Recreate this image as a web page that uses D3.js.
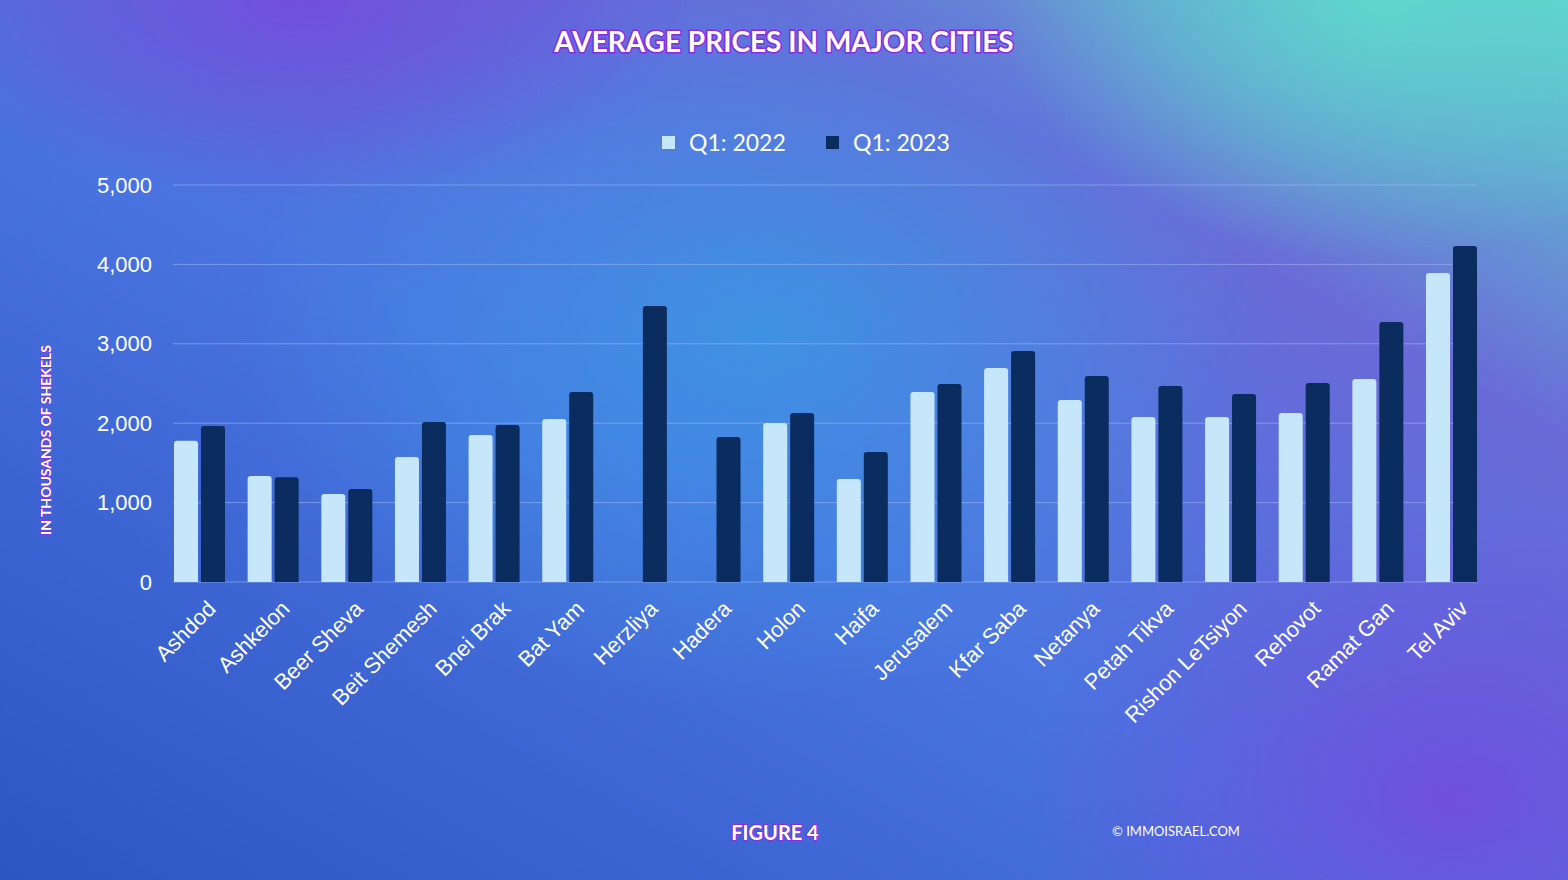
<!DOCTYPE html>
<html><head><meta charset="utf-8">
<script src="https://cdn.jsdelivr.net/npm/d3@7"></script>
<style>
body{margin:0;overflow:hidden;}
svg{display:block;font-family:Lato,"Open Sans",sans-serif;}
</style></head>
<body>
<svg id="chart" width="1568" height="880"></svg>
<script>
var cities = ["Ashdod","Ashkelon","Beer Sheva","Beit Shemesh","Bnei Brak","Bat Yam","Herzliya","Hadera","Holon","Haifa","Jerusalem","Kfar Saba","Netanya","Petah Tikva","Rishon LeTsiyon","Rehovot","Ramat Gan","Tel Aviv"];
var q2022 = [1780,1335,1108,1575,1850,2053,null,null,2002,1297,2393,2695,2292,2078,2078,2128,2557,3892];
var q2023 = [1965,1320,1170,2015,1977,2393,3476,1826,2128,1637,2494,2909,2594,2468,2368,2506,3275,4232];
var yTicks = [0,1000,2000,3000,4000,5000];
var seriesNames = ["Q1: 2022","Q1: 2023"];
var colors = ["#c6e6fa","#0b2c5e"];

var svg = d3.select("#chart");
var defs = svg.append("defs");
var g1 = defs.append("linearGradient").attr("id","bg").attr("x1","0").attr("y1","1").attr("x2","1").attr("y2","0");
g1.append("stop").attr("offset","0").attr("stop-color","#2d55c4");
g1.append("stop").attr("offset","0.45").attr("stop-color","#4a74e0");
g1.append("stop").attr("offset","0.75").attr("stop-color","#6a6ad8");
g1.append("stop").attr("offset","1").attr("stop-color","#5fd0cf");
svg.append("rect").attr("width",1568).attr("height",880).attr("fill","url(#bg)");
var r1 = defs.append("radialGradient").attr("id","glow").attr("cx","0.5").attr("cy","0.5").attr("r","0.5");
r1.append("stop").attr("offset","0").attr("stop-color","#3a9ae6").attr("stop-opacity",0.8);
r1.append("stop").attr("offset","1").attr("stop-color","#3a9ae6").attr("stop-opacity",0);
svg.append("ellipse").attr("cx",760).attr("cy",330).attr("rx",520).attr("ry",380).attr("fill","url(#glow)");
var r2 = defs.append("radialGradient").attr("id","purp").attr("cx","0.5").attr("cy","0.5").attr("r","0.5");
r2.append("stop").attr("offset","0").attr("stop-color","#7a45dc").attr("stop-opacity",0.75);
r2.append("stop").attr("offset","1").attr("stop-color","#7a45dc").attr("stop-opacity",0);
svg.append("ellipse").attr("cx",1450).attr("cy",800).attr("rx",420).attr("ry",300).attr("fill","url(#purp)");
svg.append("ellipse").attr("cx",300).attr("cy",0).attr("rx",400).attr("ry",200).attr("fill","url(#purp)");
var r3 = defs.append("radialGradient").attr("id","teal").attr("cx","0.5").attr("cy","0.5").attr("r","0.5");
r3.append("stop").attr("offset","0").attr("stop-color","#5fd8cc").attr("stop-opacity",0.9);
r3.append("stop").attr("offset","1").attr("stop-color","#5fd8cc").attr("stop-opacity",0);
svg.append("ellipse").attr("cx",1380).attr("cy",0).attr("rx",380).attr("ry",260).attr("fill","url(#teal)");

// band = one city's pair of bars
var x = d3.scaleBand().domain(cities).range([174,1477]).paddingInner(0.3075).paddingOuter(0);
var x1 = d3.scaleBand().domain([0,1]).range([0,x.bandwidth()]).paddingInner(0.11);
var y = d3.scaleLinear().domain([0,5000]).range([582,185]);

svg.append("g").selectAll("line").data(yTicks).enter().append("line")
  .attr("x1",173).attr("x2",1477).attr("y1",d=>y(d)).attr("y2",d=>y(d))
  .attr("stroke","#9fb4f0").attr("stroke-opacity",0.6).attr("stroke-width",1);

var yAxis = svg.append("g").attr("transform","translate(155,0)")
  .call(d3.axisLeft(y).tickValues(yTicks).tickSize(0).tickFormat(d3.format(",")));
yAxis.select(".domain").remove();
yAxis.selectAll("text").attr("fill","#fff").attr("font-size",22);

var grp = svg.append("g").selectAll("g").data(cities).enter().append("g")
  .attr("transform",d=>"translate("+x(d)+",0)");
[q2022,q2023].forEach(function(arr,s){
  grp.filter((d,i)=>arr[i]!=null).append("path")
    .attr("fill",colors[s])
    .attr("d",function(d){
      var i = cities.indexOf(d), v = arr[i];
      var bx = x1(s), bw = x1.bandwidth(), top = y(v), r = 3;
      return "M"+bx+",582V"+(top+r)+"Q"+bx+","+top+" "+(bx+r)+","+top+"H"+(bx+bw-r)+"Q"+(bx+bw)+","+top+" "+(bx+bw)+","+(top+r)+"V582Z";
    });
});

var xAxis = svg.append("g").attr("transform","translate(0,598)")
  .call(d3.axisBottom(x).tickSize(0));
xAxis.select(".domain").remove();
xAxis.selectAll("text").attr("fill","#fff").attr("font-size",22)
  .attr("text-anchor","end").attr("dx","4").attr("dy","18")
  .attr("transform","rotate(-45)");

svg.append("text").attr("x",784).attr("y",52).attr("text-anchor","middle")
  .attr("font-size",28).attr("font-weight",700).attr("fill","#fff")
  .attr("stroke","#8a2be2").attr("stroke-width",3).attr("paint-order","stroke")
  .text("AVERAGE PRICES IN MAJOR CITIES");

var leg = svg.append("g").selectAll("g").data(seriesNames).enter().append("g")
  .attr("transform",(d,i)=>"translate("+(662+i*164)+",143)");
leg.append("rect").attr("y",-7).attr("width",13).attr("height",13).attr("fill",(d,i)=>colors[i]);
leg.append("text").attr("x",27).attr("y",8).attr("font-size",23).attr("fill","#fff").text(d=>d);

svg.append("text").attr("transform","translate(51,440) rotate(-90)").attr("text-anchor","middle")
  .attr("font-size",14).attr("font-weight",700).attr("fill","#fff")
  .attr("stroke","#8a2be2").attr("stroke-width",1.5).attr("paint-order","stroke")
  .text("IN THOUSANDS OF SHEKELS");

svg.append("text").attr("x",775).attr("y",840).attr("text-anchor","middle")
  .attr("font-size",20).attr("font-weight",700).attr("fill","#fff")
  .attr("stroke","#8a2be2").attr("stroke-width",2).attr("paint-order","stroke")
  .text("FIGURE 4");
svg.append("text").attr("x",1176).attr("y",836).attr("text-anchor","middle")
  .attr("font-size",13).attr("fill","#fff").text("© IMMOISRAEL.COM");
</script>
</body></html>
